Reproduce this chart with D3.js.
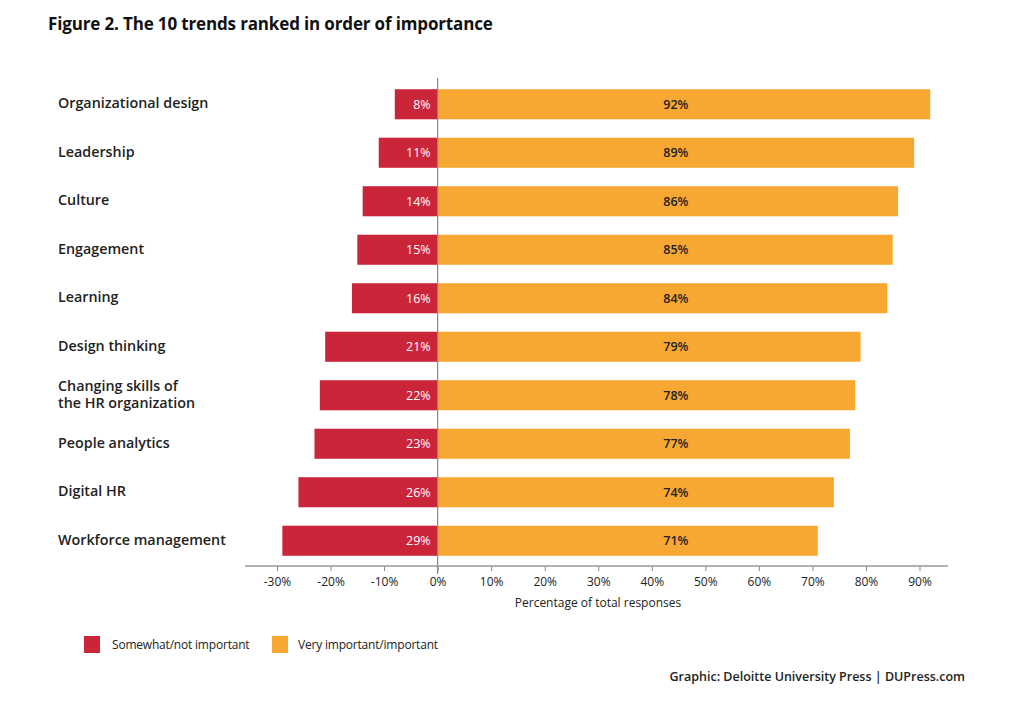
<!DOCTYPE html>
<html><head><meta charset="utf-8">
<script src="https://cdn.jsdelivr.net/npm/d3@7"></script>
<style>body{margin:0;background:#fff}svg{display:block}</style>
</head><body>
<script>
const categories = ["Organizational design","Leadership","Culture","Engagement","Learning","Design thinking","Changing skills of|the HR organization","People analytics","Digital HR","Workforce management"];
const notImportant = [8,11,14,15,16,21,22,23,26,29];
const important = [92,89,86,85,84,79,78,77,74,71];
const tickValues = [-30,-20,-10,0,10,20,30,40,50,60,70,80,90];
const seriesNames = ["Somewhat/not important","Very important/important"];
const colors = ["#CB253A","#F6A833"];

const W=1024,H=708;
const svg=d3.select("body").append("svg").attr("width",W).attr("height",H);
const font="'Open Sans', 'Noto Sans', sans-serif";
const x=d3.scaleLinear().domain([-30,90]).range([277,919.5]);
const y=d3.scaleBand().domain(d3.range(categories.length)).range([80,565]).paddingInner(0.38).paddingOuter(0.19);

svg.append("text").attr("x",48).attr("y",30).attr("font-family",font).attr("font-weight",700).attr("font-size",17).attr("letter-spacing",-0.15).attr("fill","#111").text("Figure 2. The 10 trends ranked in order of importance");

const g=svg.append("g");
g.selectAll("rect.r").data(notImportant).join("rect").attr("x",d=>x(-d)).attr("y",(d,i)=>y(i)).attr("width",d=>x(0)-x(-d)).attr("height",y.bandwidth()).attr("fill",colors[0]);
g.selectAll("rect.o").data(important).join("rect").attr("x",x(0)).attr("y",(d,i)=>y(i)).attr("width",d=>x(d)-x(0)).attr("height",y.bandwidth()).attr("fill",colors[1]);

g.selectAll("text.r").data(notImportant).join("text").attr("x",x(0)-7).attr("y",(d,i)=>y(i)+y.bandwidth()/2).attr("dy","0.36em").attr("text-anchor","end").attr("font-family",font).attr("font-size",12.5).attr("fill","#fff").text(d=>d+"%");
g.selectAll("text.o").data(important).join("text").attr("x",x(44.5)).attr("y",(d,i)=>y(i)+y.bandwidth()/2).attr("dy","0.36em").attr("text-anchor","middle").attr("font-family",font).attr("font-weight",600).attr("font-size",12.5).attr("fill","#222").text(d=>d+"%");

// zero line
svg.append("line").attr("x1",x(0)).attr("x2",x(0)).attr("y1",78).attr("y2",574).attr("stroke","#888").attr("stroke-width",1.2);

// category labels
categories.forEach((c,i)=>{
  const lines=c.split("|");
  const cy=y(i)+y.bandwidth()/2;
  const t=svg.append("text").attr("x",58).attr("font-family",font).attr("font-weight",600).attr("font-size",14.3).attr("fill","#222");
  lines.forEach((l,j)=>{
    t.append("tspan").attr("x",58).attr("y",cy+(j-(lines.length-1)/2)*17-1).attr("dy","0.36em").text(l);
  });
});

// axis
const axis=d3.axisBottom(x).tickValues(tickValues).tickFormat(d=>d+"%").tickSize(5).tickPadding(6);
const ax=svg.append("g").attr("transform","translate(0,566)").call(axis);
ax.select(".domain").remove();
ax.append("line").attr("x1",245).attr("x2",948).attr("stroke","#999").attr("stroke-width",1.5);
ax.selectAll(".tick line").attr("stroke","#888");
ax.selectAll(".tick text").attr("font-family",font).attr("font-size",12).attr("fill","#222");
svg.append("text").attr("x",598).attr("y",607).attr("text-anchor","middle").attr("font-family",font).attr("font-size",12).attr("fill","#222").text("Percentage of total responses");

// legend
const lg=[{x:84,tx:112},{x:272,tx:298}];
lg.forEach((l,i)=>{
  svg.append("rect").attr("x",l.x).attr("y",636).attr("width",16).attr("height",17).attr("fill",colors[i]);
  svg.append("text").attr("x",l.tx).attr("y",645).attr("dy","0.36em").attr("font-family",font).attr("font-size",12).attr("letter-spacing",-0.2).attr("fill","#222").text(seriesNames[i]);
});

svg.append("text").attr("x",965).attr("y",681).attr("text-anchor","end").attr("font-family",font).attr("font-weight",600).attr("font-size",12.5).attr("fill","#222").text("Graphic: Deloitte University Press  |  DUPress.com");
</script>
</body></html>
